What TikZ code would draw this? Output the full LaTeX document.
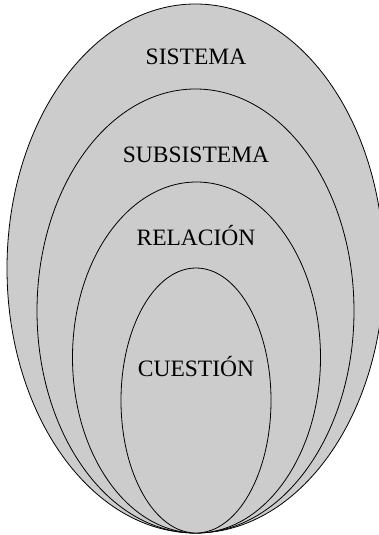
\documentclass[tikz,border=0pt]{standalone}
\usepackage{fontspec}
\setmainfont{Liberation Serif}
\definecolor{ringfill}{HTML}{CCCCCC}
\tikzset{
  ring/.style={draw=black, fill=ringfill, line width=0.8pt},
  lbl/.style={font=\fontsize{23.5}{28}\selectfont, inner sep=0pt}
}
\begin{document}
\begin{tikzpicture}[x=1pt,y=-1pt]
\useasboundingbox (0,0) rectangle (379,535);
\path[ring] (195.5,268.5) ellipse [x radius=188.5, y radius=264.5];
\path[ring] (195.5,311) ellipse [x radius=158.5, y radius=222];
\path[ring] (196.5,357.5) ellipse [x radius=124, y radius=175.5];
\path[ring] (196,400.5) ellipse [x radius=75, y radius=132.5];
\node[lbl] (sistema) at (196,57) {SISTEMA};
\node[lbl] (subsistema) at (196,155) {SUBSISTEMA};
\node[lbl] (relacion) at (196,236) {RELACIÓN};
\node[lbl] (cuestion) at (196,367) {CUESTIÓN};
\end{tikzpicture}
\end{document}
